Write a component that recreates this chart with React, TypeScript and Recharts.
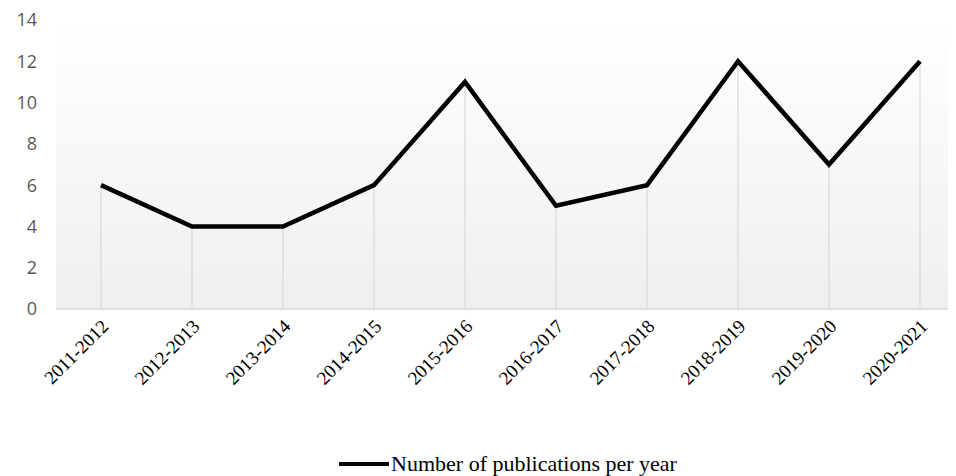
import React from 'react';
import { LineChart, Line, XAxis, YAxis, CartesianGrid, Legend, ReferenceLine } from 'recharts';

const categories = ['2011-2012', '2012-2013', '2013-2014', '2014-2015', '2015-2016', '2016-2017', '2017-2018', '2018-2019', '2019-2020', '2020-2021'];
const publications = [6, 4, 4, 6, 11, 5, 6, 12, 7, 12];
const yTicks = [0, 2, 4, 6, 8, 10, 12, 14];
const seriesName = 'Number of publications per year';

const data = categories.map((c, i) => ({ period: c, value: publications[i] }));

const XTick = (props: any) => {
  const { x, y, payload } = props;
  return (
    <text
      x={x + 4}
      y={y}
      textAnchor="end"
      dominantBaseline="central"
      transform={`rotate(-45, ${x + 4}, ${y})`}
      fontFamily="'Liberation Serif', 'Times New Roman', serif"
      fontSize={19}
      fill="#000"
    >
      {payload.value}
    </text>
  );
};

const LegendContent = () => (
  <div style={{ display: 'flex', justifyContent: 'center', alignItems: 'center', height: 24, paddingLeft: 52 }}>
    <svg width={50} height={10} style={{ display: 'block' }}>
      <line x1={0} y1={5} x2={50} y2={5} stroke="#000" strokeWidth={4} />
    </svg>
    <span style={{ fontFamily: "'Liberation Serif', 'Times New Roman', serif", fontSize: 22, color: '#000', marginLeft: 2 }}>
      {seriesName}
    </span>
  </div>
);

export default function App() {
  return (
    <div style={{ width: 948, height: 468 }}>
      <LineChart width={948} height={468} data={data} margin={{ top: 12, right: 0, left: 0, bottom: 0 }}>
        <defs>
          <linearGradient id="bgGrad" x1="0" y1="0" x2="0" y2="1">
            <stop offset="0%" stopColor="#ffffff" />
            <stop offset="100%" stopColor="#efefef" />
          </linearGradient>
        </defs>
        <CartesianGrid horizontal={false} vertical={false} fill="url(#bgGrad)" />
        <XAxis
          dataKey="period"
          padding={{ left: 45, right: 36 }}
          axisLine={{ stroke: '#d9d9d9', strokeWidth: 1.5 }}
          tickLine={false}
          tick={<XTick />}
          interval={0}
          height={143}
          tickMargin={8}
        />
        <YAxis
          domain={[0, 14]}
          ticks={yTicks}
          width={48}
          axisLine={false}
          tickLine={false}
          tickMargin={13}
          tick={{ fontFamily: "'Open Sans', sans-serif", fontSize: 18, fill: '#595959' }}
        />
        {data.map((d) => (
          <ReferenceLine
            key={d.period}
            segment={[{ x: d.period, y: 0 }, { x: d.period, y: d.value }]}
            stroke="#d9d9d9"
            strokeWidth={1.2}
          />
        ))}
        <Line
          type="linear"
          dataKey="value"
          name={seriesName}
          stroke="#000"
          strokeWidth={4.5}
          dot={false}
          activeDot={false}
          isAnimationActive={false}
        />
        <Legend verticalAlign="bottom" height={24} content={<LegendContent />} />
      </LineChart>
    </div>
  );
}
